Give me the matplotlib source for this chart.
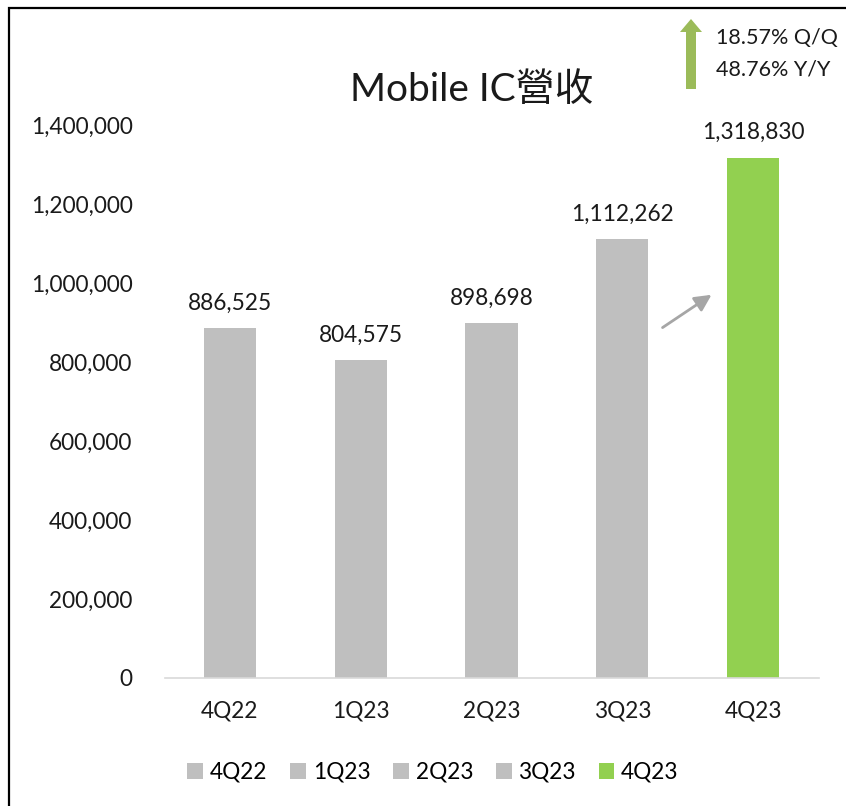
import matplotlib
matplotlib.use("Agg")
import matplotlib.pyplot as plt
from matplotlib.patches import Rectangle, FancyArrow, Patch

plt.rcParams['font.family'] = ['Lato', 'Noto Sans CJK TC', 'DejaVu Sans']

categories = ['4Q22', '1Q23', '2Q23', '3Q23', '4Q23']
revenue = [886525, 804575, 898698, 1112262, 1318830]
bar_colors = ['#bfbfbf', '#bfbfbf', '#bfbfbf', '#bfbfbf', '#92d050']
yticks = [0, 200000, 400000, 600000, 800000, 1000000, 1200000, 1400000]
title = 'Mobile IC營收'
growth_lines = ['18.57% Q/Q', '48.76% Y/Y']

W, H = 846, 806
fig = plt.figure(figsize=(W / 100, H / 100), dpi=100)
ax = fig.add_axes([164.5 / W, 1 - 678 / H, (818.5 - 164.5) / W, (678 - 125.5) / H])

FS = 16.3
x = list(range(len(categories)))
bars = ax.bar(x, revenue, width=0.4, color=bar_colors, zorder=2)
for xi, v in zip(x, revenue):
    ax.text(xi, v + 36000, f'{v:,}', ha='center', va='bottom', fontsize=FS, color='#1a1a1a')

ax.set_xlim(-0.5, len(categories) - 0.5)
ax.set_ylim(0, 1400000)
ax.set_yticks(yticks)
ax.set_yticklabels([f'{t:,}' for t in yticks], fontsize=FS, color='#1a1a1a')
ax.set_xticks(x)
ax.set_xticklabels(categories, fontsize=FS, color='#1a1a1a')
ax.tick_params(axis='y', length=0, pad=23)
ax.tick_params(axis='x', length=0, pad=16)
for s in ['top', 'right', 'left']:
    ax.spines[s].set_visible(False)
ax.spines['bottom'].set_color('#d9d9d9')
ax.spines['bottom'].set_linewidth(1.2)

fig.text(472 / W, 1 - 90 / H, title, ha='center', va='center', fontsize=28, color='#1a1a1a')

# gray trend arrow
ax.annotate('', xy=(3.70, 975000), xytext=(3.29, 884000),
            arrowprops=dict(arrowstyle='-|>,head_length=1.0,head_width=0.5', color='#a6a6a6', lw=2))

# green up arrow
arr = FancyArrow(691 / W, 1 - 89 / H, 0, (89 - 19) / H, width=10 / W, head_width=22 / W,
                 head_length=13 / H, length_includes_head=True, transform=fig.transFigure,
                 color='#9bbb59', ec='none')
fig.add_artist(arr)
fig.text(716 / W, 1 - 38 / H, growth_lines[0], ha='left', va='center', fontsize=15.5, color='#1a1a1a')
fig.text(716 / W, 1 - 69 / H, growth_lines[1], ha='left', va='center', fontsize=15.5, color='#1a1a1a')

handles = [Patch(facecolor=c, edgecolor='none') for c in bar_colors]
fig.legend(handles, categories, loc='center', bbox_to_anchor=(433 / W, 1 - 772 / H), ncol=5,
           frameon=False, fontsize=FS, handlelength=0.7, handleheight=0.7, handletextpad=0.3,
           columnspacing=1.0)

border = Rectangle((8.5 / W, -0.1), 2, 1.1 - 8.5 / H, transform=fig.transFigure,
                   fill=False, ec='black', lw=1.6)
fig.add_artist(border)

fig.savefig('out.png', dpi=100)
